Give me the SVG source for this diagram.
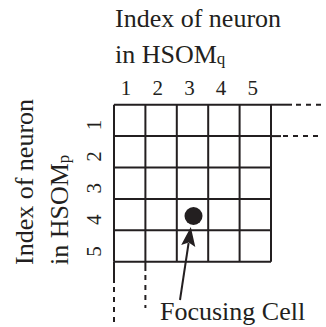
<svg xmlns="http://www.w3.org/2000/svg" width="326" height="327" viewBox="0 0 326 327">
<style>
  .t { font-family: "Liberation Serif", "Times New Roman", serif; fill: #231f20; }
  .lbl { font-size: 26px; }
  .sub { font-size: 17px; }
  .num { font-size: 21px; text-anchor: middle; }
  .g { stroke: #231f20; stroke-width: 2; fill: none; }
  .d { stroke: #231f20; stroke-width: 2; fill: none; stroke-dasharray: 5 5; }
</style>
<rect width="326" height="327" fill="#fff"/>
<g id="title-top">
  <text class="t lbl" x="115" y="27">Index of neuron</text>
  <text class="t lbl" x="115" y="63">in HSOM<tspan class="sub" dy="1">q</tspan></text>
</g>
<g id="title-left">
  <text class="t lbl" transform="translate(33,265) rotate(-90)">Index of neuron</text>
  <text class="t lbl" transform="translate(68,265) rotate(-90)">in HSOM<tspan class="sub" dy="1">p</tspan></text>
</g>
<g id="col-numbers">
  <text class="t num" x="126" y="95">1</text>
  <text class="t num" x="157.7" y="95">2</text>
  <text class="t num" x="189.4" y="95">3</text>
  <text class="t num" x="221.1" y="95">4</text>
  <text class="t num" x="252.8" y="95">5</text>
</g>
<g id="row-numbers">
  <text class="t num" transform="translate(101,125) rotate(-90)">1</text>
  <text class="t num" transform="translate(101,156.6) rotate(-90)">2</text>
  <text class="t num" transform="translate(101,188.2) rotate(-90)">3</text>
  <text class="t num" transform="translate(101,219.8) rotate(-90)">4</text>
  <text class="t num" transform="translate(101,251.4) rotate(-90)">5</text>
</g>
<g id="grid">
  <path class="g" d="M114,104.7H271 M114,136.1H271 M114,167.5H271 M114,198.9H271 M114,230.3H271 M114,261.7H271
                     M114,104.7V261.7 M145.4,104.7V261.7 M176.8,104.7V261.7 M208.2,104.7V261.7 M239.6,104.7V261.7 M271,104.7V261.7"/>
</g>
<g id="connectors">
  <path class="g" d="M271,104.7H292"/>
  <path class="d" d="M296,104.7H322"/>
  <path class="g" d="M271,136.1H281"/>
  <path class="d" d="M283,136.1H320"/>
  <path class="g" d="M114,261.7V283"/>
  <path class="d" d="M114,287V322"/>
  <path class="g" d="M145.4,261.7V271"/>
  <path class="d" d="M145.4,275V308"/>
  <path class="g" d="M180,300L188.6,243"/>
  <polygon fill="#231f20" points="190.8,227 195.3,247 188.7,242.5 181.2,245"/>
</g>
<g id="focusing-cell">
  <circle cx="193.5" cy="216" r="9" fill="#231f20"/>
  <text class="t lbl" x="160" y="320">Focusing Cell</text>
</g>
</svg>
